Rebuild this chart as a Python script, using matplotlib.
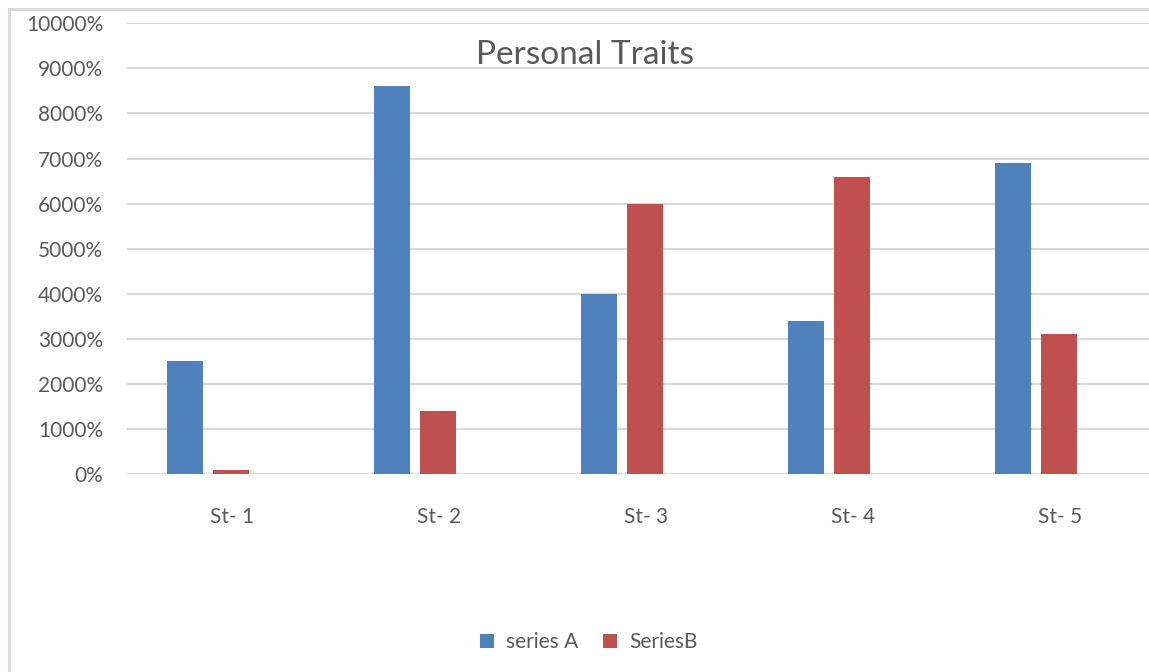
import matplotlib
matplotlib.use("Agg")
import matplotlib.pyplot as plt
from matplotlib.patches import Rectangle
from matplotlib.ticker import FuncFormatter
import numpy as np

plt.rcParams['font.family'] = ['Lato', 'DejaVu Sans']

categories = ["St- 1", "St- 2", "St- 3", "St- 4", "St- 5"]
series_a = [2500, 8600, 4000, 3400, 6900]
series_b = [90, 1400, 6000, 6600, 3100]
yticks = list(range(0, 10001, 1000))

W, H = 1149, 672
fig = plt.figure(figsize=(W / 100, H / 100), dpi=100)
fig.patch.set_facecolor("white")

# chart frame
fig.patches.append(Rectangle((9 / W, -0.1), 1.2, 1 - 9 / H + 0.1,
                             transform=fig.transFigure, fill=False,
                             edgecolor="#D9D9D9", linewidth=2.2))

left, right = 127 / W, 1163 / W
bottom, top = 1 - 474 / H, 1 - 23.3 / H
ax = fig.add_axes([left, bottom, right - left, top - bottom])
ax.set_facecolor("white")

x = np.arange(len(categories))
bw = 36 / 207
step = 46 / 207
ax.bar(x - step, series_a, width=bw, color="#4F81BD", label="series A", zorder=3)
ax.bar(x, series_b, width=bw, color="#C0504D", label="SeriesB", zorder=3)

ax.set_xlim(-0.5, len(categories) - 0.5)
ax.set_ylim(0, 10000)
ax.set_yticks(yticks)
ax.yaxis.set_major_formatter(FuncFormatter(lambda v, p: f"{int(v)}%"))
ax.set_xticks(x + 0.005)
ax.set_xticklabels(categories)
ax.tick_params(axis="both", length=0, labelsize=15, colors="#595959")
ax.tick_params(axis="x", pad=24)
ax.tick_params(axis="y", pad=17)
ax.grid(axis="y", color="#D9D9D9", linewidth=1.5, zorder=0)
for s in ax.spines.values():
    s.set_visible(False)

fig.text(585 / W, 1 - 54.5 / H, "Personal Traits", ha="center", va="center",
         fontsize=24, color="#595959")

fig.legend(loc="center", bbox_to_anchor=(589 / W, 1 - 642.5 / H), ncol=2,
           frameon=False, fontsize=15, labelcolor="#595959",
           handlelength=0.65, handleheight=0.65, handletextpad=0.6,
           columnspacing=1.2)

fig.savefig("out.png", dpi=100, facecolor="white")
